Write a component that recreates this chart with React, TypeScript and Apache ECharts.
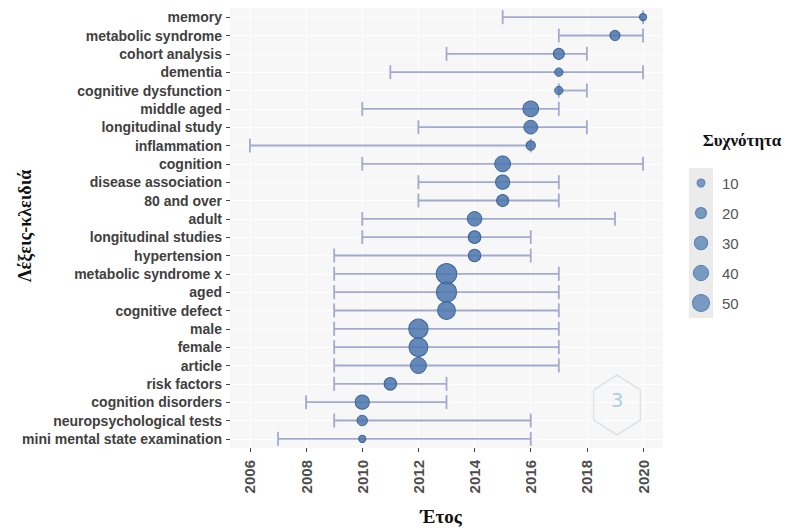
import React, { useEffect, useRef } from "react";
import * as echarts from "echarts";

// Keywords, top row first
const keywords = [
  "memory",
  "metabolic syndrome",
  "cohort analysis",
  "dementia",
  "cognitive dysfunction",
  "middle aged",
  "longitudinal study",
  "inflammation",
  "cognition",
  "disease association",
  "80 and over",
  "adult",
  "longitudinal studies",
  "hypertension",
  "metabolic syndrome x",
  "aged",
  "cognitive defect",
  "male",
  "female",
  "article",
  "risk factors",
  "cognition disorders",
  "neuropsychological tests",
  "mini mental state examination",
];

// Median year of each keyword
const medianYear = [
  2020, 2019, 2017, 2017, 2017, 2016, 2016, 2016, 2015, 2015, 2015, 2014,
  2014, 2014, 2013, 2013, 2013, 2012, 2012, 2012, 2011, 2010, 2010, 2010,
];

// First quartile year (left end of the range)
const q1Year = [
  2015, 2017, 2013, 2011, 2017, 2010, 2012, 2006, 2010, 2012, 2012, 2010,
  2010, 2009, 2009, 2009, 2009, 2009, 2009, 2009, 2009, 2008, 2009, 2007,
];

// Third quartile year (right end of the range)
const q3Year = [
  2020, 2020, 2018, 2020, 2018, 2017, 2018, 2016, 2020, 2017, 2017, 2019,
  2016, 2016, 2017, 2017, 2017, 2017, 2017, 2017, 2013, 2013, 2016, 2016,
];

// Keyword frequency
const frequency = [
  8, 17, 20, 11, 11, 42, 32, 14, 43, 34, 24, 36, 26, 26, 74, 70, 54, 65, 61,
  44, 26, 34, 18, 8,
];

// Year tick labels
const yearTicks = [2006, 2008, 2010, 2012, 2014, 2016, 2018, 2020];

// Size legend entries
const legendValues = [10, 20, 30, 40, 50];

const sizeOf = (f: number) => 0.72 + 2.3 * Math.sqrt(f);

const POINT_FILL = "rgba(76,118,172,0.86)";
const POINT_BORDER = "#3b6398";
const RANGE_COLOR = "#a4aacf";
const SANS = "'Liberation Sans', Arial, sans-serif";
const SERIF = "'Liberation Serif', 'DejaVu Serif', serif";

export default function App() {
  const ref = useRef<HTMLDivElement>(null);

  useEffect(() => {
    if (!ref.current) return;
    const chart = echarts.init(ref.current, null, { renderer: "svg" });

    const hex: number[][] = [];
    for (let k = 0; k < 6; k++) {
      const a = -Math.PI / 2 + (k * Math.PI) / 3;
      hex.push([617 + 27 * Math.cos(a), 405 + 30 * Math.sin(a)]);
    }

    chart.setOption({
      animation: false,
      backgroundColor: "#ffffff",
      grid: [
        {
          left: 230,
          right: 143,
          top: 8,
          bottom: 82,
          show: true,
          backgroundColor: "#f7f7f7",
          borderWidth: 0,
        },
        {
          left: 689,
          top: 168,
          width: 24,
          height: 150,
          show: true,
          backgroundColor: "#ebebeb",
          borderWidth: 0,
        },
      ],
      xAxis: [
        {
          type: "value",
          gridIndex: 0,
          min: 2005.29,
          max: 2020.71,
          axisLine: { show: false },
          axisTick: {
            show: true,
            customValues: yearTicks,
            length: 4,
            lineStyle: { color: "#444", width: 1 },
          },
          axisLabel: {
            customValues: yearTicks,
            formatter: (v: number) => String(v),
            rotate: 90,
            margin: 12,
            fontSize: 15,
            fontWeight: "bold",
            color: "#4d4d4d",
            fontFamily: SANS,
          },
          splitLine: { show: true, lineStyle: { color: "#ffffff", width: 1 } },
        },
        {
          type: "value",
          gridIndex: 1,
          min: 0,
          max: 1,
          show: false,
        },
      ],
      yAxis: [
        {
          type: "category",
          gridIndex: 0,
          data: keywords,
          inverse: true,
          axisLine: { show: false },
          axisTick: {
            show: true,
            alignWithLabel: true,
            length: 4,
            lineStyle: { color: "#444", width: 1 },
          },
          axisLabel: {
            margin: 8,
            fontSize: 14,
            fontWeight: "bold",
            color: "#404040",
            fontFamily: SANS,
            interval: 0,
          },
          splitLine: {
            show: true,
            alignWithLabel: true,
            interval: 0,
            lineStyle: { color: "#ffffff", width: 1 },
          },
        },
        {
          type: "category",
          gridIndex: 1,
          data: legendValues.map(String),
          inverse: true,
          position: "right",
          axisLine: { show: false },
          axisTick: { show: false },
          axisLabel: {
            margin: 9,
            fontSize: 15,
            color: "#555555",
            fontFamily: SANS,
          },
          splitLine: { show: false },
        },
      ],
      series: [
        {
          type: "custom",
          xAxisIndex: 0,
          yAxisIndex: 0,
          data: keywords.map((_, i) => [q1Year[i], q3Year[i], i]),
          encode: { x: [0, 1], y: 2 },
          z: 2,
          renderItem: (params: any, api: any) => {
            const row = api.value(2);
            const a = api.coord([api.value(0), row]);
            const b = api.coord([api.value(1), row]);
            const h = api.size([0, 1])[1] * 0.38;
            const style = { stroke: RANGE_COLOR, lineWidth: 1.8, fill: "none" };
            return {
              type: "group",
              children: [
                { type: "line", shape: { x1: a[0], y1: a[1], x2: b[0], y2: b[1] }, style },
                { type: "line", shape: { x1: a[0], y1: a[1] - h, x2: a[0], y2: a[1] + h }, style },
                { type: "line", shape: { x1: b[0], y1: b[1] - h, x2: b[0], y2: b[1] + h }, style },
              ],
            };
          },
        },
        {
          type: "scatter",
          xAxisIndex: 0,
          yAxisIndex: 0,
          z: 3,
          data: keywords.map((k, i) => [medianYear[i], k, frequency[i]]),
          symbolSize: (v: number[]) => sizeOf(v[2]),
          itemStyle: {
            color: POINT_FILL,
            borderColor: POINT_BORDER,
            borderWidth: 1,
            opacity: 1,
          },
        },
        {
          type: "scatter",
          xAxisIndex: 1,
          yAxisIndex: 1,
          data: legendValues.map((v) => [0.5, String(v), v]),
          symbolSize: (v: any[]) => sizeOf(v[2]),
          itemStyle: {
            color: "#5b84b6",
            borderColor: "#4a73a6",
            borderWidth: 1,
          },
        },
      ],
      graphic: [
        {
          type: "text",
          x: 25,
          y: 226,
          rotation: Math.PI / 2,
          style: {
            text: "Λέξεις-κλειδιά",
            fontFamily: SERIF,
            fontWeight: "bold",
            fontSize: 18,
            fill: "#111",
            align: "center",
            verticalAlign: "middle",
          },
        },
        {
          type: "text",
          x: 441,
          y: 516,
          style: {
            text: "Έτος",
            fontFamily: SERIF,
            fontWeight: "bold",
            fontSize: 19,
            fill: "#111",
            align: "center",
            verticalAlign: "middle",
          },
        },
        {
          type: "text",
          x: 742,
          y: 140,
          style: {
            text: "Συχνότητα",
            fontFamily: SERIF,
            fontWeight: "bold",
            fontSize: 17,
            fill: "#111",
            align: "center",
            verticalAlign: "middle",
          },
        },
        {
          type: "polygon",
          shape: { points: hex },
          style: { fill: "none", stroke: "#dfe3e8", lineWidth: 1.5 },
          z: 1,
        },
        {
          type: "text",
          x: 617,
          y: 400,
          style: {
            text: "3",
            fontFamily: "'DejaVu Sans', sans-serif",
            fontSize: 20,
            fill: "#a9d0e8",
            align: "center",
            verticalAlign: "middle",
          },
          z: 1,
        },
      ],
    });

    return () => chart.dispose();
  }, []);

  return (
    <div
      ref={ref}
      style={{ position: "fixed", left: 0, top: 0, width: 806, height: 530 }}
    />
  );
}
